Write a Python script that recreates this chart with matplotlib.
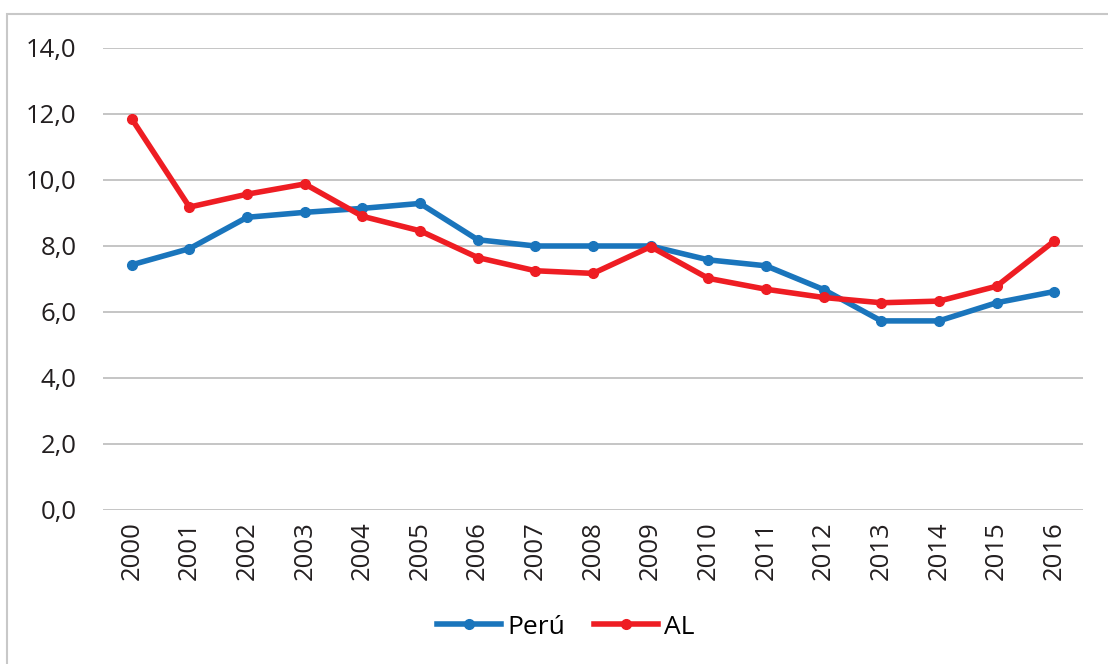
import matplotlib as mpl
mpl.use("Agg")
import matplotlib.pyplot as plt
from matplotlib.patches import Rectangle
from matplotlib.ticker import FuncFormatter

years = [str(y) for y in range(2000, 2017)]
peru = [7.43, 7.92, 8.87, 9.02, 9.14, 9.29, 8.19, 8.00, 8.00, 8.00, 7.58, 7.40, 6.68, 5.73, 5.73, 6.28, 6.62]
al = [11.85, 9.18, 9.57, 9.88, 8.90, 8.46, 7.65, 7.25, 7.17, 7.98, 7.02, 6.69, 6.44, 6.28, 6.33, 6.78, 8.15]

plt.rcParams['font.family'] = ['Open Sans', 'DejaVu Sans']

fig = plt.figure(figsize=(11.08, 6.64), dpi=100)
ax = fig.add_axes([103 / 1108, 1 - 510 / 664, 980 / 1108, 462 / 664])

# borde gris alrededor del gráfico
fig.patches.append(Rectangle((7 / 1108, -0.05), 1.1, 1 - 14 / 664 + 0.05,
                             transform=fig.transFigure, fill=False,
                             edgecolor='#c8c8c8', linewidth=1.5))

x = range(len(years))
ax.plot(x, peru, color='#1a75bc', lw=4, marker='o', ms=7, label='Perú',
        solid_joinstyle='round')
ax.plot(x, al, color='#ee1d23', lw=4, marker='o', ms=7, label='AL',
        solid_joinstyle='round')

ax.set_xlim(-0.5, len(years) - 0.5)
ax.set_ylim(0, 14)
ax.set_yticks(range(0, 15, 2))
ax.yaxis.set_major_formatter(FuncFormatter(lambda v, p: f"{v:.1f}".replace('.', ',')))
ax.set_xticks(list(x))
ax.set_xticklabels(years, rotation=90)
ax.tick_params(length=0, labelsize=18.5, colors='#231f20')
ax.tick_params(axis='y', pad=19)
ax.tick_params(axis='x', pad=8)
ax.grid(axis='y', color='#c0c0c0', lw=1.3)
ax.set_axisbelow(True)
for s in ax.spines.values():
    s.set_visible(False)

fig.legend(loc='center', bbox_to_anchor=(566 / 1108, 1 - 627 / 664), ncol=2,
           frameon=False, fontsize=19, handlelength=2.4, columnspacing=1.1,
           handletextpad=0.25)

fig.savefig("out.png", dpi=100)
